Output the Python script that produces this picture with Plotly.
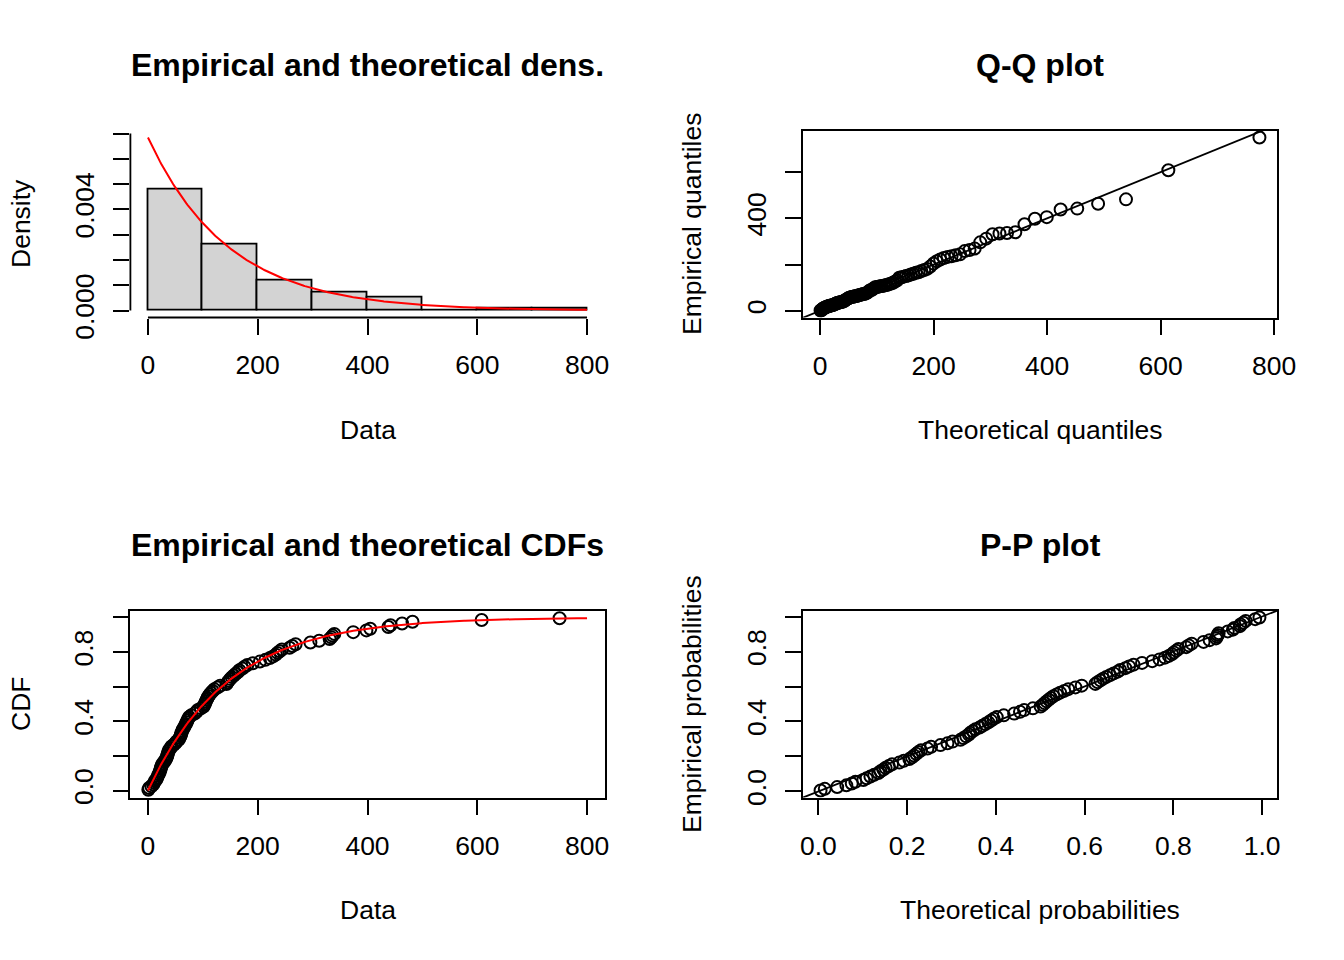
import numpy as np
import plotly.graph_objects as go

# sorted sample (n = 100)
data = [0.7, 2.1, 6.3, 9.5, 11.4, 12.7, 15.6, 16.8, 18.2, 19.6,
        21.2, 22.0, 23.1, 24.0, 25.2, 26.5, 29.4, 31.2, 33.5, 34.6,
        35.5, 36.4, 37.3, 38.4, 41.2, 42.8, 47.0, 50.2, 52.6, 56.4,
        57.8, 59.2, 60.5, 61.2, 62.5, 63.8, 65.9, 67.4, 69.0, 70.6,
        72.0, 73.4, 75.1, 79.0, 85.0, 88.5, 91.0, 96.5, 101.5, 103.0,
        104.2, 105.5, 107.0, 108.5, 110.2, 112.5, 115.0, 118.0, 121.0, 126.5,
        131.5, 143.0, 145.0, 147.5, 150.0, 153.0, 156.5, 160.0, 164.0, 166.5,
        172.0, 176.0, 181.0, 191.0, 204.0, 214.0, 222.0, 228.0, 233.0, 236.0,
        240.0, 244.0, 258.0, 263.0, 269.0, 296.0, 312.0, 331.0, 334.0, 336.5,
        339.5, 374.0, 398.0, 405.0, 438.0, 442.0, 463.0, 482.0, 608.0, 750.0]
bin_edges = [0, 100, 200, 300, 400, 500, 600, 700, 800]
xlim_data = [0, 800]

titles = ["Empirical and theoretical dens.", "Q-Q plot",
          "Empirical and theoretical CDFs", "P-P plot"]

# exponential fit (mle)
x = np.sort(np.array(data))
n = len(x)
rate = 1.0 / x.mean()
pemp = (np.arange(1, n + 1) - 0.5) / n
qtheo = -np.log(1 - pemp) / rate
ptheo = 1 - np.exp(-rate * x)
dens, _ = np.histogram(x, bins=bin_edges, density=True)
centers = [(bin_edges[i] + bin_edges[i+1]) / 2 for i in range(len(bin_edges) - 1)]
xs = np.linspace(xlim_data[0], xlim_data[1], 401)

def expand(lo, hi):
    d = 0.04 * (hi - lo)
    return [lo - d, hi + d]

# page has an 8px body margin, so lay out in window pixels minus that
OFF = 8
W, H = 1344 - OFF, 960 - OFF
def px(v):
    return (v - OFF) / W
def py(v):
    return 1 - (v - OFF) / H

colL = [px(130.4), px(604.6)]
colR = [px(803), px(1277)]
rowT = [py(317.5), py(130.5)]
rowB = [py(797.5), py(610.5)]

FONT = "Liberation Sans"
FS = 26.5
lw = 1.8

fig = go.Figure()

# density panel
fig.add_trace(go.Bar(x=centers, y=dens, width=100, xaxis='x', yaxis='y',
                     marker=dict(color='#D3D3D3', line=dict(color='black', width=lw))))
fig.add_trace(go.Scatter(x=xs, y=rate * np.exp(-rate * xs), mode='lines',
                         line=dict(color='red', width=2), xaxis='x', yaxis='y'))

mk = dict(symbol='circle-open', size=12, color='black', line=dict(width=2))

# Q-Q
fig.add_trace(go.Scatter(x=qtheo, y=x, mode='markers', marker=mk, xaxis='x2', yaxis='y2'))
fig.add_trace(go.Scatter(x=[-1000, 2000], y=[-1000, 2000], mode='lines',
                         line=dict(color='black', width=1.8), xaxis='x2', yaxis='y2'))

# CDF
fig.add_trace(go.Scatter(x=x, y=pemp, mode='markers', marker=mk, xaxis='x3', yaxis='y3'))
fig.add_trace(go.Scatter(x=xs, y=1 - np.exp(-rate * xs), mode='lines',
                         line=dict(color='red', width=2), xaxis='x3', yaxis='y3'))

# P-P
fig.add_trace(go.Scatter(x=ptheo, y=pemp, mode='markers', marker=mk, xaxis='x4', yaxis='y4'))
fig.add_trace(go.Scatter(x=[-1, 2], y=[-1, 2], mode='lines',
                         line=dict(color='black', width=1.8), xaxis='x4', yaxis='y4'))

ax = dict(ticks='outside', ticklen=16, tickwidth=lw, tickcolor='black', automargin=False,
          showgrid=False, zeroline=False, tickfont=dict(family=FONT, size=FS, color='black'))
boxed = dict(showline=True, mirror=True, linecolor='black', linewidth=lw)
yax = dict(tickangle=-90, ticklabelstandoff=9)
xax = dict(ticklabelstandoff=8)

ymax = max(rate, dens.max())
fig.update_layout(
    xaxis=dict(domain=colL, anchor='y', range=expand(*xlim_data),
               tickvals=[0, 200, 400, 600, 800], showline=False, **ax, **xax),
    yaxis=dict(domain=rowT, anchor='x', range=expand(0, ymax),
               tickvals=[0, 0.001, 0.002, 0.003, 0.004, 0.005, 0.006, 0.007],
               ticktext=['0.000', '', '', '', '0.004', '', '', ''],
               showline=False, **ax, **yax),
    xaxis2=dict(domain=colR, anchor='y2', range=expand(qtheo.min(), qtheo.max()),
                tickvals=[0, 200, 400, 600, 800], **boxed, **ax, **xax),
    yaxis2=dict(domain=rowT, anchor='x2', range=expand(x.min(), x.max()),
                tickvals=[0, 200, 400, 600], ticktext=['0', '', '400', ''],
                **boxed, **ax, **yax),
    xaxis3=dict(domain=colL, anchor='y3', range=expand(*xlim_data),
                tickvals=[0, 200, 400, 600, 800], **boxed, **ax, **xax),
    yaxis3=dict(domain=rowB, anchor='x3', range=expand(0, 1),
                tickvals=[0, 0.2, 0.4, 0.6, 0.8, 1.0],
                ticktext=['0.0', '', '0.4', '', '0.8', ''], **boxed, **ax, **yax),
    xaxis4=dict(domain=colR, anchor='y4', range=expand(ptheo.min(), ptheo.max()),
                tickvals=[0, 0.2, 0.4, 0.6, 0.8, 1.0],
                ticktext=['0.0', '0.2', '0.4', '0.6', '0.8', '1.0'], **boxed, **ax, **xax),
    yaxis4=dict(domain=rowB, anchor='x4', range=expand(pemp.min(), pemp.max()),
                tickvals=[0, 0.2, 0.4, 0.6, 0.8, 1.0],
                ticktext=['0.0', '', '0.4', '', '0.8', ''], **boxed, **ax, **yax),
    bargap=0,
    showlegend=False,
    width=W, height=H,
    margin=dict(l=0, r=0, t=0, b=0, autoexpand=False),
    paper_bgcolor='white', plot_bgcolor='white',
    font=dict(family=FONT, size=FS, color='black'),
)

# R-style axis lines for the histogram (only between first and last tick)
fig.add_shape(type='line', xref='x', yref='y domain', x0=0, x1=800, y0=0, y1=0,
              line=dict(color='black', width=lw))
fig.add_shape(type='line', xref='x domain', yref='y', x0=0, x1=0, y0=0, y1=0.007,
              line=dict(color='black', width=lw))

txt = dict(xref='paper', yref='paper', showarrow=False, xanchor='center', yanchor='middle')

# main titles
for t, cx, ty in [(titles[0], colL, 65), (titles[1], colR, 65),
                  (titles[2], colL, 545), (titles[3], colR, 545)]:
    fig.add_annotation(text='<b>' + t + '</b>', x=(cx[0] + cx[1]) / 2, y=py(ty),
                       font=dict(family=FONT, size=32, color='black'), **txt)

# axis titles
for t, cx, ty in [("Data", colL, 430), ("Theoretical quantiles", colR, 430),
                  ("Data", colL, 910), ("Theoretical probabilities", colR, 910)]:
    fig.add_annotation(text=t, x=(cx[0] + cx[1]) / 2, y=py(ty),
                       font=dict(family=FONT, size=FS, color='black'), **txt)
for t, tx, ry in [("Density", 21, rowT), ("Empirical quantiles", 692, rowT),
                  ("CDF", 21, rowB), ("Empirical probabilities", 692, rowB)]:
    fig.add_annotation(text=t, x=px(tx), y=(ry[0] + ry[1]) / 2, textangle=-90,
                       font=dict(family=FONT, size=FS, color='black'), **txt)

fig.write_html("out.html")
